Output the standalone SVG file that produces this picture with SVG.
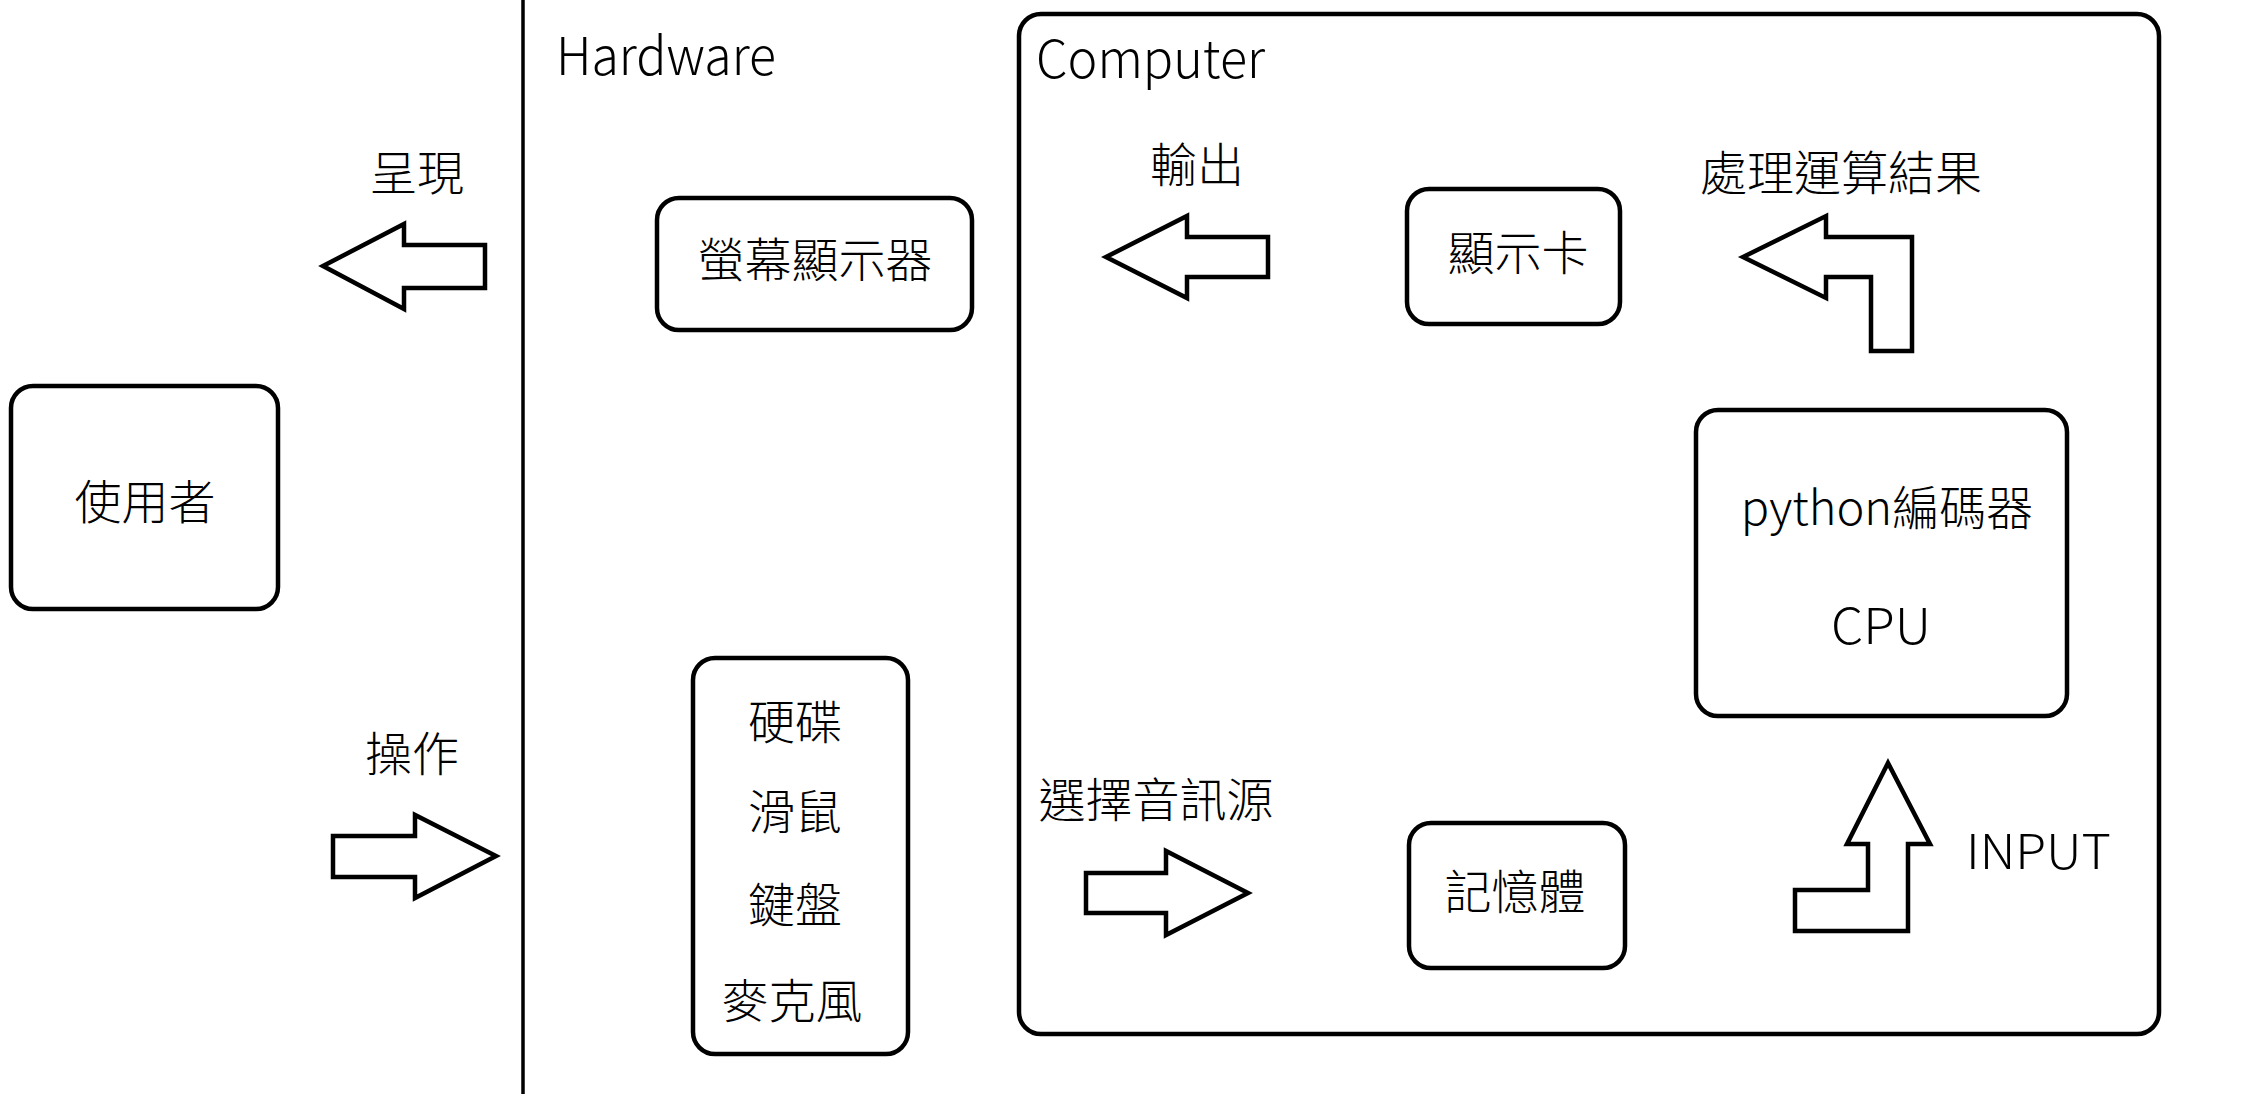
<svg xmlns="http://www.w3.org/2000/svg" width="2262" height="1094" viewBox="0 0 2262 1094">
  <style>
    .box { fill: #fff; stroke: #000; stroke-width: 4.5; }
    .container { fill: none; stroke: #000; stroke-width: 4.5; }
    .divider { stroke: #000; stroke-width: 3.5; }
    .arrow { fill: #fff; stroke: #000; stroke-width: 4.5; stroke-linejoin: miter; }
    .t { font-family: "Noto Sans CJK TC", "Noto Sans CJK SC", sans-serif; font-size: 47px; font-weight: 300; fill: #000; }
    .c { text-anchor: middle; }
    .lat { font-family: "Noto Sans CJK TC", "Noto Sans", sans-serif; font-weight: 300; fill: #000; }
  </style>
  <rect width="2262" height="1094" fill="#fff"/>

  <g id="hardware-region">
    <line class="divider" x1="523" y1="0" x2="523" y2="1094"/>
    <text class="lat" x="556" y="75" font-size="52" textLength="220" lengthAdjust="spacingAndGlyphs">Hardware</text>
  </g>

  <g id="computer">
    <rect class="container" x="1019" y="14" width="1140" height="1020" rx="22"/>
    <text class="lat" x="1036" y="78" font-size="52" textLength="229" lengthAdjust="spacingAndGlyphs">Computer</text>
  </g>

  <g id="user">
    <rect class="box" x="11" y="386" width="267" height="223" rx="22"/>
    <text class="t c" x="145" y="519">使用者</text>
  </g>

  <g id="monitor">
    <rect class="box" x="657" y="198" width="315" height="132" rx="22"/>
    <text class="t c" x="815" y="277">螢幕顯示器</text>
  </g>

  <g id="input-devices">
    <rect class="box" x="693" y="658" width="215" height="396" rx="22"/>
    <text class="t c" x="795" y="739">硬碟</text>
    <text class="t c" x="795" y="829">滑鼠</text>
    <text class="t c" x="795" y="922">鍵盤</text>
    <text class="t c" x="792" y="1018">麥克風</text>
  </g>

  <g id="gpu">
    <rect class="box" x="1407" y="189" width="213" height="135" rx="22"/>
    <text class="t c" x="1518" y="270">顯示卡</text>
  </g>

  <g id="cpu">
    <rect class="box" x="1696" y="410" width="371" height="306" rx="22"/>
    <text class="t c" x="1887" y="525">python編碼器</text>
    <text class="lat c" x="1881" y="644" font-size="49" textLength="100" lengthAdjust="spacingAndGlyphs">CPU</text>
  </g>

  <g id="memory">
    <rect class="box" x="1409" y="823" width="216" height="145" rx="22"/>
    <text class="t c" x="1515" y="909">記憶體</text>
  </g>

  <g id="connectors">
    <polygon class="arrow" points="323,266 404,224 404,245 485,245 485,288 404,288 404,309"/>
    <text class="t c" x="417" y="190">呈現</text>

    <polygon class="arrow" points="333,836 415,836 415,815 496,856 415,898 415,877 333,877"/>
    <text class="t c" x="412" y="771">操作</text>

    <polygon class="arrow" points="1106,257 1187,216 1187,237 1268,237 1268,277 1187,277 1187,298"/>
    <text class="t c" x="1197" y="182">輸出</text>

    <polygon class="arrow" points="1086,873 1166,873 1166,851 1248,893 1166,935 1166,913 1086,913"/>
    <text class="t c" x="1156" y="817">選擇音訊源</text>

    <polygon class="arrow" points="1743,257 1826,216 1826,237 1912,237 1912,351 1871,351 1871,277 1826,277 1826,298"/>
    <text class="t c" x="1841" y="190">處理運算結果</text>

    <polygon class="arrow" points="1888,763 1930,844 1908,844 1908,931 1795,931 1795,890 1868,890 1868,844 1847,844"/>
    <text class="lat" x="1966" y="869" font-size="48" textLength="145" lengthAdjust="spacingAndGlyphs">INPUT</text>
  </g>
</svg>
